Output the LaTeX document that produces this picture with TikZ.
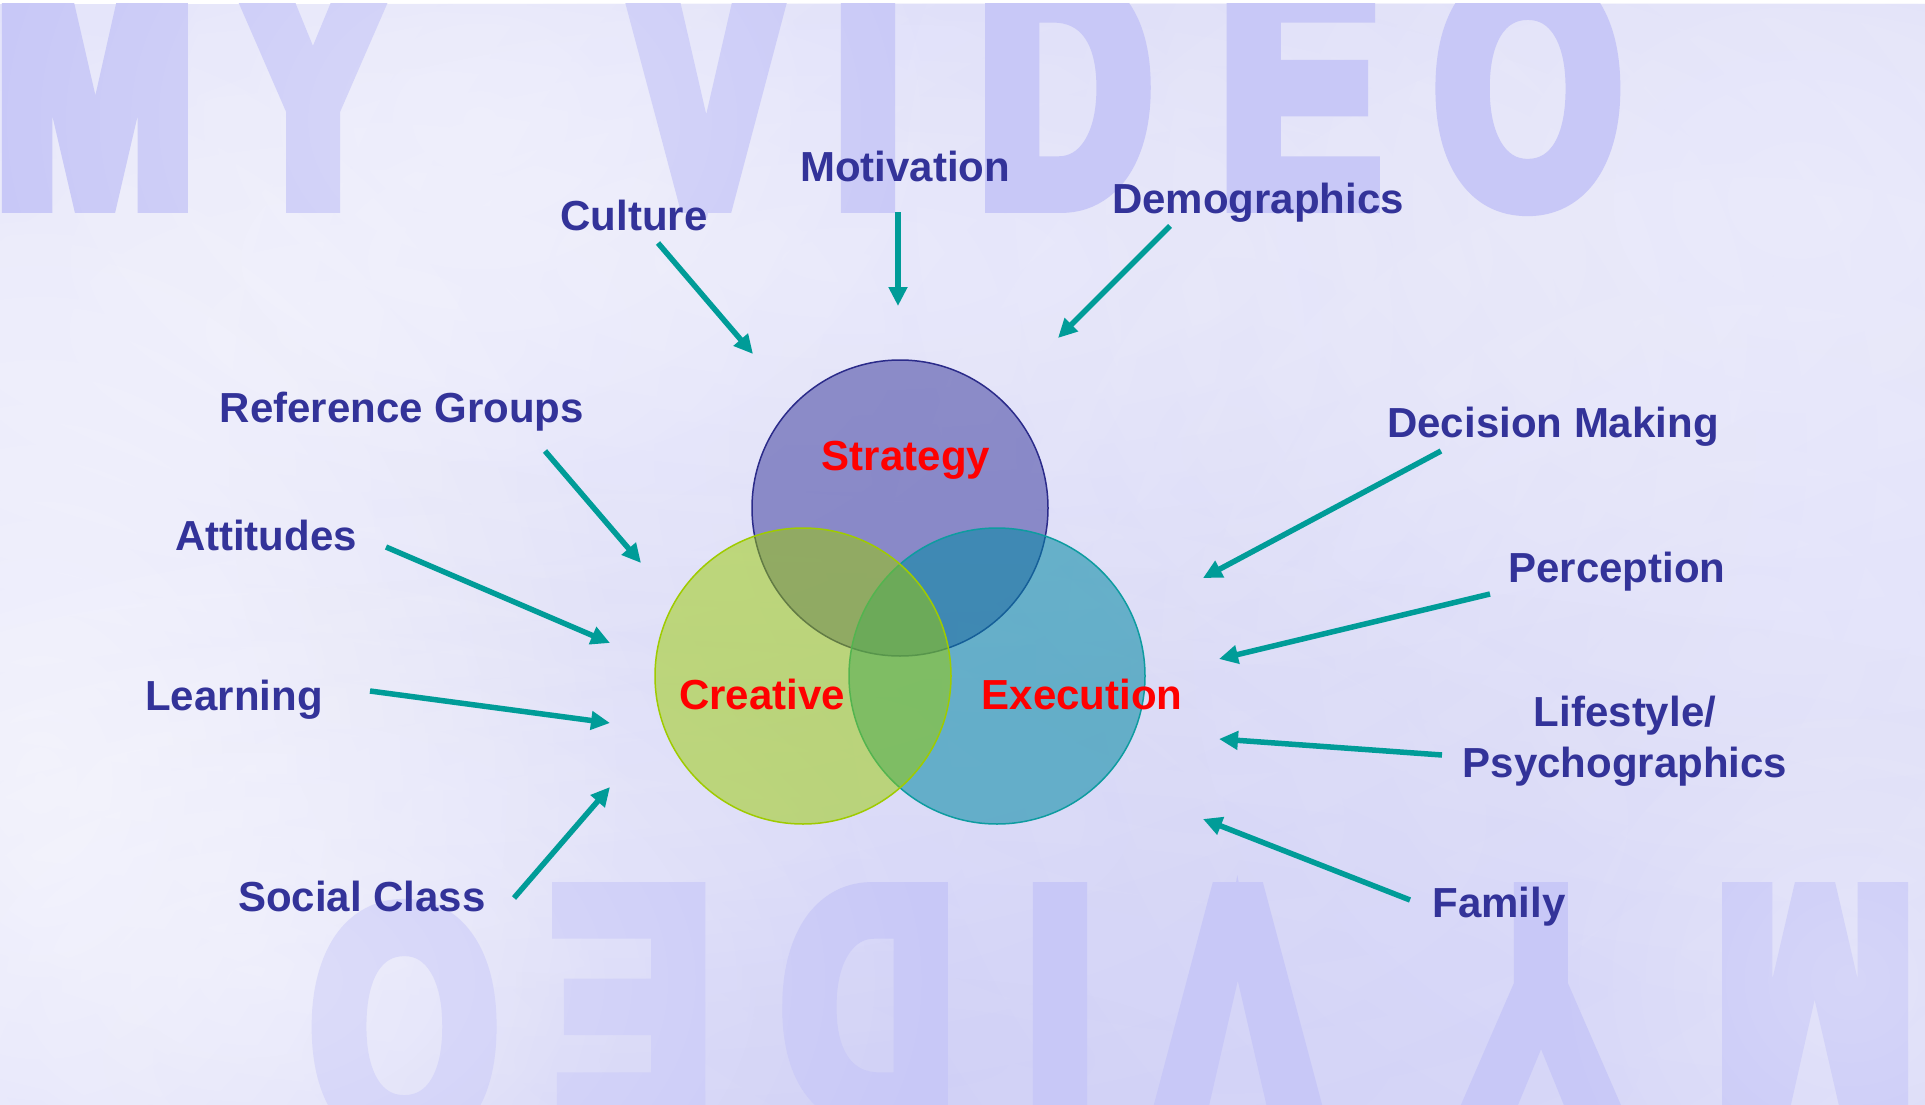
\documentclass[tikz,border=0pt]{standalone}
\usepackage{fontspec}
\setmainfont{Liberation Sans}
\newfontfamily\wmfont{Liberation Sans}[FakeBold=6, FakeStretch=0.72, BoldFont={Liberation Sans Bold}, BoldFeatures={FakeBold=6, FakeStretch=0.72}]
\usetikzlibrary{arrows.meta,fadings}

\definecolor{lab}{HTML}{333399}
\definecolor{arrc}{HTML}{009C98}
\definecolor{wm}{RGB}{200,200,247}
\definecolor{bgc}{RGB}{220,220,249}
\definecolor{darkc}{RGB}{200,200,246}
\definecolor{sfill}{HTML}{333399}
\definecolor{sline}{HTML}{2B2B8A}
\definecolor{efill}{RGB}{4,138,164}
\definecolor{eline}{HTML}{0E9CA0}
\definecolor{cfill}{HTML}{99CC00}
\definecolor{cline}{HTML}{9FCB00}

\tikzfading[name=softblob, inner color=transparent!0, outer color=transparent!100]

\begin{document}
\begin{tikzpicture}[x=1pt,y=-1pt,
  lbl/.style={text=lab, font=\fontsize{42}{51}\selectfont\bfseries, inner sep=0pt, anchor=base},
  vlbl/.style={text=red, font=\fontsize{42}{51}\selectfont\bfseries, inner sep=0pt, anchor=base},
  arr/.style={draw=arrc, line width=5.5pt, -{Triangle[length=19pt,width=18pt]}},
  wmk/.style={text=wm, font=\wmfont\fontsize{330}{330}\selectfont\bfseries, inner sep=0pt, anchor=base},
  cloudw/.style={fill=white, path fading=softblob},
  cloudd/.style={fill=darkc, path fading=softblob},
  venn/.style={circle, inner sep=0pt, minimum size=296pt, line width=1.5pt},
]
\useasboundingbox (0,0) rectangle (1925,1105);
\fill[white] (0,0) rectangle (1925,1105);
\begin{scope}
\clip (0,4) rectangle (1925,1105);
\fill[bgc] (0,4) rectangle (1925,1105);
% clouds
\fill[cloudd, fill opacity=0.7] (1230,450) ellipse (1000 and 900);
\fill[cloudd, fill opacity=0.6] (900,1060) ellipse (1800 and 500);
\fill[cloudw, fill opacity=0.35] (350,330) ellipse (1500 and 700);
\fill[cloudw, fill opacity=0.35] (850,260) ellipse (1400 and 450);
\fill[cloudw, fill opacity=0.35] (1800,200) ellipse (1000 and 800);
\fill[cloudw, fill opacity=0.55] (40,780) ellipse (600 and 800);
\fill[cloudw, fill opacity=0.25] (1750,650) ellipse (1000 and 900);
\fill[cloudw, fill opacity=0.2] (600,820) ellipse (1200 and 400);
% watermark top
\node[wmk] (wm1) at (95,203) {M};
\node[wmk] (wm2) at (313,203) {Y};
\node[wmk] (wm3) at (706,203) {V};
\node[wmk] (wm4) at (868,203) {I};
\node[wmk] (wm5) at (1065,203) {D};
\node[wmk] (wm6) at (1300,203) {E};
\node[wmk] (wm7) at (1528,203) {O};
% watermark bottom (rotated)
\node[wmk, rotate=180] (wb1) at (404,912) {O};
\node[wmk, rotate=180] (wb2) at (632,892) {E};
\node[wmk, rotate=180] (wb3) at (868,892) {D};
\node[wmk, rotate=180] (wb4) at (1060,892) {I};
\node[wmk, rotate=180] (wb5) at (1238,892) {V};
\node[wmk, rotate=180] (wb6) at (1541,892) {Y};
\node[wmk, rotate=180] (wb7) at (1815,892) {M};
% light haze over watermark
\fill[cloudw, fill opacity=0.4] (250,980) ellipse (700 and 450);
\fill[cloudw, fill opacity=0.3] (480,120) ellipse (500 and 400);
\fill[cloudw, fill opacity=0.25] (1850,980) ellipse (300 and 300);
\end{scope}

% Venn circles
\node[venn, fill=sfill, fill opacity=0.5, draw=sline] (strategy) at (900,508) {};
\node[venn, fill=efill, fill opacity=0.55, draw=eline] (execution) at (997,676) {};
\node[venn, fill=cfill, fill opacity=0.5, draw=cline] (creative) at (803,676) {};

\node[vlbl] (tstrategy) at (906,470) {Strategy};
\node[vlbl] (tcreative) at (762,709) {Creative};
\node[vlbl] (texecution) at (1082,709) {Execution};

% labels
\node[lbl] (culture) at (634,230) {Culture};
\node[lbl] (motivation) at (905,182) {Motivation};
\node[lbl] (demo) at (1258,213) {Demographics};
\node[lbl] (refgroups) at (402,422) {Reference Groups};
\node[lbl] (attitudes) at (266,550) {Attitudes};
\node[lbl] (learning) at (234,710) {Learning};
\node[lbl] (social) at (362,911) {Social Class};
\node[lbl] (decision) at (1553,437) {Decision Making};
\node[lbl] (perception) at (1617,582) {Perception};
\node[lbl] (lifestyle) at (1625,726) {Lifestyle/};
\node[lbl] (psycho) at (1625,777) {Psychographics};
\node[lbl] (family) at (1499,917) {Family};

% arrow end points
\coordinate (culS) at (658,243);   \coordinate (culT) at (753,354);
\coordinate (motS) at (898,212);   \coordinate (motT) at (898,306);
\coordinate (demS) at (1170,226);  \coordinate (demT) at (1058,338);
\coordinate (refS) at (545,451);   \coordinate (refT) at (641,563);
\coordinate (attS) at (386,547);   \coordinate (attT) at (610,643);
\coordinate (leaS) at (370,691);   \coordinate (leaT) at (610,723);
\coordinate (socS) at (514,898);   \coordinate (socT) at (610,787);
\coordinate (decS) at (1441,451);  \coordinate (decT) at (1203,578);
\coordinate (perS) at (1490,594);  \coordinate (perT) at (1219,659);
\coordinate (lifS) at (1442,755);  \coordinate (lifT) at (1219,739);
\coordinate (famS) at (1410,900);  \coordinate (famT) at (1203,819);

\draw[arr] (culS) -- (culT);
\draw[arr] (motS) -- (motT);
\draw[arr] (demS) -- (demT);
\draw[arr] (refS) -- (refT);
\draw[arr] (attS) -- (attT);
\draw[arr] (leaS) -- (leaT);
\draw[arr] (socS) -- (socT);
\draw[arr] (decS) -- (decT);
\draw[arr] (perS) -- (perT);
\draw[arr] (lifS) -- (lifT);
\draw[arr] (famS) -- (famT);
\end{tikzpicture}
\end{document}
